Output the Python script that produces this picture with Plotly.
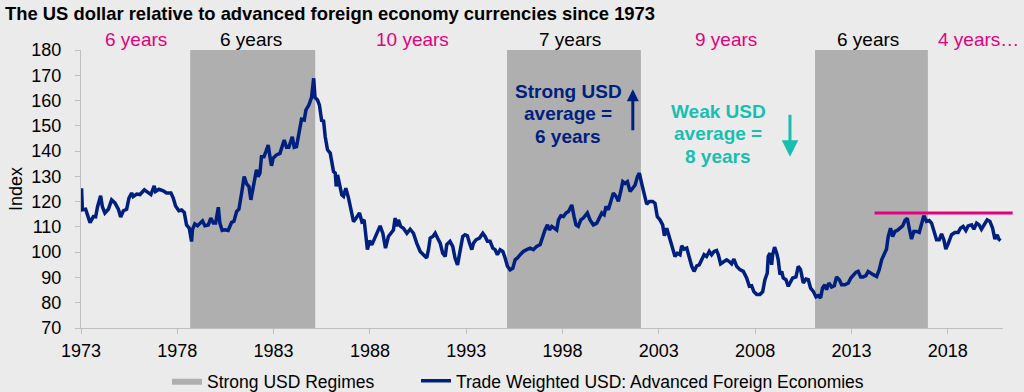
import plotly.graph_objects as go

# ---------------- data ----------------
YEARS = [
    1973.03, 1973.07, 1973.24, 1973.47, 1973.64, 1973.76, 1973.86, 1974.02, 1974.11, 1974.24,
    1974.42, 1974.59, 1974.76, 1974.94, 1975.06, 1975.20, 1975.37, 1975.49, 1975.63, 1975.71,
    1975.89, 1976.06, 1976.29, 1976.49, 1976.63, 1976.80, 1976.87, 1977.05, 1977.27, 1977.44,
    1977.67, 1977.79, 1977.91, 1978.08, 1978.22, 1978.36, 1978.48, 1978.62, 1978.74, 1978.79,
    1978.91, 1979.05, 1979.17, 1979.31, 1979.43, 1979.61, 1979.74, 1979.87, 1979.99, 1980.13,
    1980.21, 1980.33, 1980.47, 1980.64, 1980.82, 1980.94, 1981.08, 1981.20, 1981.34, 1981.47,
    1981.60, 1981.72, 1981.82, 1981.94, 1982.11, 1982.20, 1982.29, 1982.37, 1982.50, 1982.60,
    1982.72, 1982.81, 1982.89, 1982.98, 1983.15, 1983.33, 1983.45, 1983.55, 1983.67, 1983.79,
    1983.97, 1984.07, 1984.19, 1984.31, 1984.45, 1984.59, 1984.68, 1984.83, 1984.97, 1985.08,
    1985.15, 1985.28, 1985.38, 1985.50, 1985.59, 1985.68, 1985.80, 1985.94, 1986.02, 1986.11,
    1986.20, 1986.25, 1986.32, 1986.42, 1986.54, 1986.63, 1986.75, 1986.89, 1987.01, 1987.15,
    1987.29, 1987.46, 1987.58, 1987.70, 1987.87, 1987.98, 1988.10, 1988.22, 1988.36, 1988.53,
    1988.67, 1988.81, 1988.96, 1989.09, 1989.22, 1989.31, 1989.40, 1989.48, 1989.60, 1989.74,
    1989.92, 1990.09, 1990.26, 1990.43, 1990.61, 1990.78, 1990.95, 1991.04, 1991.13, 1991.27,
    1991.39, 1991.51, 1991.65, 1991.78, 1991.91, 1991.99, 1992.16, 1992.30, 1992.42, 1992.55,
    1992.68, 1992.82, 1992.94, 1993.06, 1993.17, 1993.29, 1993.38, 1993.51, 1993.69, 1993.86,
    1993.98, 1994.10, 1994.24, 1994.38, 1994.50, 1994.62, 1994.76, 1994.90, 1995.02, 1995.14,
    1995.28, 1995.42, 1995.54, 1995.66, 1995.80, 1995.97, 1996.14, 1996.32, 1996.49, 1996.66,
    1996.84, 1996.97, 1997.09, 1997.22, 1997.32, 1997.44, 1997.56, 1997.70, 1997.79, 1997.91,
    1998.05, 1998.18, 1998.31, 1998.48, 1998.60, 1998.70, 1998.82, 1998.95, 1999.08, 1999.29,
    1999.43, 1999.60, 1999.78, 1999.91, 2000.04, 2000.16, 2000.26, 2000.38, 2000.50, 2000.64,
    2000.78, 2000.90, 2001.02, 2001.13, 2001.25, 2001.37, 2001.51, 2001.64, 2001.77, 2001.89,
    2001.99, 2002.11, 2002.23, 2002.37, 2002.51, 2002.68, 2002.80, 2002.92, 2003.06, 2003.20,
    2003.29, 2003.41, 2003.51, 2003.62, 2003.72, 2003.84, 2003.96, 2004.10, 2004.19, 2004.31,
    2004.45, 2004.59, 2004.71, 2004.83, 2004.97, 2005.10, 2005.23, 2005.35, 2005.48, 2005.62,
    2005.74, 2005.87, 2006.00, 2006.09, 2006.21, 2006.35, 2006.52, 2006.66, 2006.78, 2006.90,
    2007.04, 2007.21, 2007.39, 2007.56, 2007.70, 2007.82, 2007.94, 2008.08, 2008.25, 2008.39,
    2008.51, 2008.63, 2008.68, 2008.77, 2008.86, 2008.91, 2009.01, 2009.12, 2009.20, 2009.29,
    2009.38, 2009.46, 2009.60, 2009.72, 2009.84, 2009.95, 2010.12, 2010.24, 2010.36, 2010.50,
    2010.64, 2010.76, 2010.88, 2011.02, 2011.16, 2011.28, 2011.40, 2011.50, 2011.62, 2011.71,
    2011.83, 2011.97, 2012.11, 2012.23, 2012.37, 2012.49, 2012.66, 2012.84, 2012.97, 2013.10,
    2013.23, 2013.35, 2013.48, 2013.61, 2013.75, 2013.87, 2013.99, 2014.13, 2014.31, 2014.44,
    2014.57, 2014.70, 2014.82, 2014.91, 2015.03, 2015.14, 2015.26, 2015.38, 2015.52, 2015.66,
    2015.78, 2015.90, 2016.00, 2016.12, 2016.24, 2016.38, 2016.52, 2016.64, 2016.76, 2016.90,
    2017.04, 2017.16, 2017.28, 2017.42, 2017.56, 2017.68, 2017.80, 2017.90, 2018.02, 2018.20,
    2018.37, 2018.54, 2018.66, 2018.80, 2018.94, 2019.06, 2019.24, 2019.36, 2019.50, 2019.63,
    2019.75, 2019.88, 2020.05, 2020.19, 2020.33, 2020.45, 2020.57, 2020.65, 2020.74,
]
USD_INDEX = [
    125.3, 116.8, 117.0, 111.7, 114.1, 114.0, 118.0, 122.3, 118.0, 115.5,
    117.0, 120.7, 119.5, 117.0, 113.9, 116.4, 117.0, 121.4, 123.4, 122.0,
    123.0, 122.8, 124.7, 123.4, 122.8, 126.2, 124.0, 124.9, 124.3, 123.4,
    123.4, 121.4, 118.3, 116.4, 116.7, 115.7, 110.8, 109.5, 104.2, 109.0,
    111.2, 110.5, 111.5, 112.4, 110.5, 110.8, 113.5, 111.5, 111.5, 117.8,
    111.5, 108.6, 108.9, 108.6, 111.8, 112.2, 116.1, 117.0, 123.4, 129.9,
    127.0, 126.0, 120.7, 125.3, 132.6, 129.9, 131.2, 137.8, 137.8, 139.8,
    142.4, 137.8, 134.2, 137.2, 138.5, 139.1, 141.8, 144.4, 141.5, 141.5,
    145.7, 141.5, 141.8, 147.7, 152.6, 152.3, 156.3, 158.2, 161.3, 168.8,
    161.2, 160.2, 158.2, 151.7, 152.3, 145.7, 140.5, 139.2, 136.5, 131.9,
    131.3, 126.0, 130.6, 126.6, 122.7, 122.1, 125.3, 121.4, 116.8, 112.1,
    113.5, 115.5, 112.1, 112.8, 101.0, 104.6, 102.9, 105.1, 107.5, 110.4,
    107.5, 101.6, 106.2, 107.7, 108.8, 113.5, 110.2, 112.8, 110.2, 109.5,
    107.5, 109.1, 107.5, 103.6, 100.3, 99.0, 97.7, 101.0, 105.6, 106.2,
    107.5, 105.6, 103.6, 99.6, 98.3, 103.0, 104.3, 102.3, 97.7, 95.0,
    101.0, 106.2, 106.9, 106.5, 103.6, 101.0, 103.6, 104.9, 105.6, 107.5,
    106.2, 104.3, 104.3, 101.6, 101.0, 99.0, 101.0, 100.3, 97.7, 94.4,
    93.0, 93.7, 97.0, 97.7, 99.0, 100.3, 101.0, 101.6, 101.0, 102.3,
    103.0, 106.2, 108.8, 110.8, 108.8, 110.2, 109.5, 108.8, 112.8, 114.4,
    114.1, 115.5, 116.1, 118.7, 114.1, 110.8, 110.2, 112.8, 113.5, 115.5,
    112.8, 110.8, 111.5, 113.5, 115.5, 114.8, 118.1, 116.8, 119.4, 123.4,
    122.1, 120.1, 124.0, 127.9, 127.2, 127.9, 124.0, 125.3, 126.6, 129.9,
    131.3, 127.2, 123.4, 119.0, 120.1, 120.1, 119.4, 114.1, 112.8, 110.8,
    106.5, 109.5, 106.9, 103.6, 101.6, 98.3, 99.6, 99.0, 102.5, 101.2,
    101.6, 97.0, 94.4, 92.4, 94.6, 95.0, 97.0, 99.0, 98.3, 100.3,
    99.0, 100.3, 100.7, 99.0, 95.4, 96.3, 97.0, 96.3, 95.4, 97.3,
    94.4, 93.1, 92.4, 89.8, 86.5, 86.7, 84.3, 83.3, 83.3, 84.3,
    89.1, 91.7, 98.3, 99.6, 95.0, 99.0, 102.0, 99.6, 97.0, 91.1,
    92.4, 89.8, 89.1, 86.5, 88.5, 89.8, 90.2, 94.4, 93.1, 87.8,
    89.4, 89.1, 85.8, 84.5, 82.3, 82.8, 81.9, 85.8, 87.1, 85.2,
    87.8, 86.2, 86.7, 90.2, 89.1, 87.1, 87.1, 87.8, 89.8, 91.1,
    92.0, 92.4, 90.2, 90.2, 90.7, 92.4, 91.7, 91.1, 90.4, 93.0,
    97.0, 99.0, 101.2, 106.2, 109.5, 106.2, 108.2, 108.6, 109.5, 110.4,
    112.5, 113.4, 109.5, 105.2, 108.2, 108.2, 107.8, 111.5, 114.4, 112.2,
    112.5, 111.5, 108.2, 104.9, 104.9, 107.2, 104.9, 101.2, 103.3, 106.9,
    107.8, 107.8, 109.5, 110.2, 108.6, 110.4, 110.8, 109.1, 111.5, 110.8,
    109.1, 110.8, 112.8, 112.2, 109.5, 105.2, 106.9, 105.2, 104.6,
]

# Strong USD regimes (start / end, decimal years)
REGIME_START = [1978.67, 1995.12, 2011.11]
REGIME_END = [1985.16, 2002.07, 2016.97]

# period labels above the chart
PERIOD_TEXT = ["6 years", "6 years", "10 years", "7 years", "9 years", "6 years", "4 years…"]
PERIOD_X = [1975.85, 1981.83, 1990.22, 1998.39, 2006.49, 2013.86, 2019.62]
PERIOD_STRONG = [False, True, False, True, False, True, False]

# recent-high reference line
HIGH_LEVEL = 115.5
HIGH_FROM, HIGH_TO = 2014.2, 2021.37

TICK_YEARS = [1973, 1978, 1983, 1988, 1993, 1998, 2003, 2008, 2013, 2018]
Y_TICKS = list(range(70, 181, 10))

# ---------------- styling ----------------
X_RANGE = [1973, 2020.87]
Y_RANGE = [70, 180]
BG = "#EBEBEB"
NAVY = "#00207F"
PINK = "#E6007E"
TEAL = "#17BFB1"
SHADE = "#AFAFAF"
AXIS = "#BFBFBF"
FONT = "Liberation Sans, Arial, sans-serif"

# shaded regimes as one filled trace
sx, sy = [], []
for s, e in zip(REGIME_START, REGIME_END):
    sx += [s, e, e, s, s, None]
    sy += [Y_RANGE[0], Y_RANGE[0], Y_RANGE[1], Y_RANGE[1], Y_RANGE[0], None]

fig = go.Figure()
fig.add_trace(go.Scatter(
    x=sx, y=sy, mode="lines", fill="toself", fillcolor=SHADE,
    line=dict(width=0, color=SHADE), name="Strong USD Regimes", hoverinfo="skip",
    legend="legend",
))
fig.add_trace(go.Scatter(
    x=YEARS, y=USD_INDEX, mode="lines", line=dict(color=NAVY, width=3.5),
    name="Trade Weighted USD: Advanced Foreign Economies", legend="legend2",
))

annotations = []
for t, x, strong in zip(PERIOD_TEXT, PERIOD_X, PERIOD_STRONG):
    annotations.append(dict(
        x=x, xref="x", y=1.036, yref="paper", text=t, showarrow=False,
        xanchor="center", yanchor="middle",
        font=dict(family=FONT, size=19, color="#000000" if strong else PINK),
    ))

for txt, y in zip(["Strong USD", "average =", "6 years"], [163.5, 154.9, 145.9]):
    annotations.append(dict(
        x=1998.29, y=y, xref="x", yref="y", text="<b>%s</b>" % txt, showarrow=False,
        xanchor="center", yanchor="middle", font=dict(family=FONT, size=19, color=NAVY),
    ))
for txt, y in zip(["Weak USD", "average =", "8 years"], [155.6, 146.8, 137.8]):
    annotations.append(dict(
        x=2006.09, y=y, xref="x", yref="y", text="<b>%s</b>" % txt, showarrow=False,
        xanchor="center", yanchor="middle", font=dict(family=FONT, size=19, color=TEAL),
    ))

# arrows
annotations.append(dict(
    x=2001.65, y=164.5, ax=2001.65, ay=147.7, xref="x", yref="y", axref="x", ayref="y",
    text="", showarrow=True, arrowhead=2, arrowsize=0.8, arrowwidth=3, arrowcolor=NAVY,
))
annotations.append(dict(
    x=2009.81, y=137.8, ax=2009.81, ay=155.0, xref="x", yref="y", axref="x", ayref="y",
    text="", showarrow=True, arrowhead=2, arrowsize=1.1, arrowwidth=3, arrowcolor=TEAL,
))

span = X_RANGE[1] - X_RANGE[0]
shapes = [dict(
    type="line", xref="paper", yref="y",
    x0=(HIGH_FROM - X_RANGE[0]) / span, x1=(HIGH_TO - X_RANGE[0]) / span,
    y0=HIGH_LEVEL, y1=HIGH_LEVEL, line=dict(color=PINK, width=3),
)]

legend_common = dict(
    orientation="h", xanchor="left", y=-0.19, yanchor="middle",
    font=dict(family=FONT, size=17.5, color="#000000"), bgcolor="rgba(0,0,0,0)",
)

fig.update_layout(
    width=1024, height=392,
    margin=dict(l=81, r=21, t=50, b=64, autoexpand=False),
    paper_bgcolor=BG, plot_bgcolor=BG,
    font=dict(family=FONT, size=18, color="#000000"),
    title=dict(
        text="<b>The US dollar relative to advanced foreign economy currencies since 1973</b>",
        x=5 / 1024, xref="container", xanchor="left",
        y=1 - 14 / 392, yref="container", yanchor="middle",
        font=dict(family=FONT, size=18.4, color="#000000"),
    ),
    xaxis=dict(
        range=X_RANGE, tickvals=TICK_YEARS, ticktext=[str(v) for v in TICK_YEARS],
        showgrid=False, zeroline=False, showline=True, linecolor=AXIS, linewidth=1,
        ticks="outside", ticklen=5, tickcolor=AXIS, tickfont=dict(size=18),
        ticklabelstandoff=1, automargin=False,
    ),
    yaxis=dict(
        range=Y_RANGE, tickvals=Y_TICKS, showgrid=False, zeroline=False,
        showline=True, linecolor=AXIS, linewidth=1, ticks="outside", ticklen=5,
        tickcolor=AXIS, tickfont=dict(size=18), ticklabelstandoff=10,
        title=dict(text="Index", font=dict(size=18), standoff=4),
        automargin=False,
    ),
    legend=dict(x=(167 - 81) / 922, **legend_common),
    legend2=dict(x=(416 - 81) / 922, **legend_common),
    showlegend=True,
    annotations=annotations,
    shapes=shapes,
)

fig.write_html(
    "out.html",
    config={"displayModeBar": False},
    post_script="document.body.style.margin='0px';",
)
